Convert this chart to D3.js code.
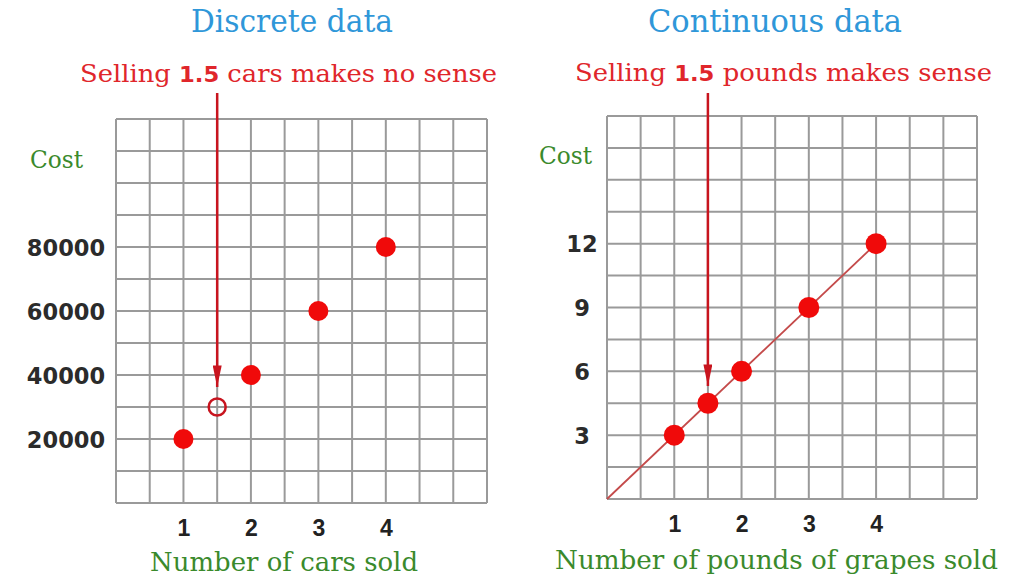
<!DOCTYPE html>
<html><head><meta charset="utf-8">
<script src="https://cdn.jsdelivr.net/npm/d3@7"></script>
<style>html,body{margin:0;padding:0;background:#fff;}</style>
</head><body>
<svg id="c" width="1024" height="576"></svg>
<script>
// ---- data ----
const carsSold = [1, 2, 3, 4];
const carCost = [20000, 40000, 60000, 80000];
const carHalf = {x: 1.5, y: 30000};
const carYTicks = [20000, 40000, 60000, 80000];
const xTicks = [1, 2, 3, 4];

const grapePounds = [1, 1.5, 2, 3, 4];
const grapeCost = [3, 4.5, 6, 9, 12];
const grapeLine = [[0, 0], [4, 12]];
const grapeYTicks = [3, 6, 9, 12];
const arrowX = 1.5;

const svg = d3.select("#c");
const serif = "'DejaVu Serif', 'Liberation Serif', serif";
const sans = "'DejaVu Sans', 'Liberation Sans', sans-serif";
const red = "#f00a0a", dark = "#c8141e", green = "#3a8a2c", blue = "#2f97d9";

svg.append("defs").append("marker")
  .attr("id", "ah").attr("viewBox", "0 0 24 10").attr("refX", 24).attr("refY", 5)
  .attr("markerUnits", "userSpaceOnUse").attr("markerWidth", 22).attr("markerHeight", 9)
  .attr("orient", "auto")
  .append("path").attr("d", "M0,0 L24,5 L0,10 Z").attr("fill", dark);

function panel(o) {
  const g = svg.append("g");
  const x = d3.scaleLinear().domain([0, 5.5]).range(o.xr);
  const y = d3.scaleLinear().domain([0, o.ymax]).range(o.yr);
  // grid
  const gx = d3.range(0, 5.51, 0.5), gy = d3.range(0, o.ymax + 1e-9, o.ymax / 12);
  g.selectAll(".vx").data(gx).join("line")
    .attr("x1", d => x(d)).attr("x2", d => x(d)).attr("y1", y(0)).attr("y2", y(o.ymax))
    .attr("stroke", "#9a9a9a").attr("stroke-width", 2);
  g.selectAll(".hy").data(gy).join("line")
    .attr("y1", d => y(d)).attr("y2", d => y(d)).attr("x1", x(0)).attr("x2", x(5.5))
    .attr("stroke", "#9a9a9a").attr("stroke-width", 2);
  // axes labels via d3 axes
  const ya = g.append("g").attr("transform", `translate(${o.ylabX},0)`)
    .call(d3.axisLeft(y).tickValues(o.yTicks).tickSize(0).tickPadding(0).tickFormat(d3.format("d")));
  ya.select(".domain").remove();
  ya.selectAll("text").attr("text-anchor", "middle").attr("font-family", sans)
    .attr("font-weight", "bold").attr("font-size", o.ySize).attr("fill", "#2b2b2b").attr("dy", "0.36em");
  const xa = g.append("g").attr("transform", `translate(0,${y(0) + 16})`)
    .call(d3.axisBottom(x).tickValues(xTicks).tickSize(0).tickPadding(0).tickFormat(d3.format("d")));
  xa.select(".domain").remove();
  xa.selectAll("text").attr("font-family", "'Liberation Sans', Arial, sans-serif")
    .attr("font-weight", "bold").attr("font-size", 23).attr("fill", "#222").attr("dy", "0.72em");
  return {g, x, y};
}

// ---- left panel ----
const L = panel({xr: [116, 487], yr: [503, 119], ymax: 120000, yTicks: carYTicks, ylabX: 66, ySize: 22.5});
L.g.append("line").attr("x1", L.x(carHalf.x)).attr("x2", L.x(carHalf.x))
  .attr("y1", 93).attr("y2", 387).attr("stroke", dark).attr("stroke-width", 2.5)
  .attr("marker-end", "url(#ah)");
L.g.selectAll(".pt").data(carsSold).join("circle")
  .attr("cx", d => L.x(d)).attr("cy", (d, i) => L.y(carCost[i])).attr("r", 10).attr("fill", red);
L.g.append("circle").attr("cx", L.x(carHalf.x)).attr("cy", L.y(carHalf.y)).attr("r", 8.5)
  .attr("fill", "none").attr("stroke", dark).attr("stroke-width", 2.5);

// ---- right panel ----
const R = panel({xr: [607, 977], yr: [499, 116], ymax: 18, yTicks: grapeYTicks, ylabX: 582, ySize: 22.5});
R.g.append("path").datum(grapeLine)
  .attr("d", d3.line().x(d => R.x(d[0])).y(d => R.y(d[1])))
  .attr("stroke", "#c44a4a").attr("stroke-width", 1.8).attr("fill", "none");
R.g.append("line").attr("x1", R.x(arrowX)).attr("x2", R.x(arrowX))
  .attr("y1", 93).attr("y2", 386).attr("stroke", dark).attr("stroke-width", 2.5)
  .attr("marker-end", "url(#ah)");
R.g.selectAll(".pt").data(grapePounds).join("circle")
  .attr("cx", d => R.x(d)).attr("cy", (d, i) => R.y(grapeCost[i])).attr("r", 10.5).attr("fill", red);

// ---- texts ----
function txt(s, x, yb, size, color, len) {
  const t = svg.append("text").attr("x", x).attr("y", yb).attr("font-family", serif)
    .attr("font-size", size).attr("fill", color);
  if (len) t.attr("textLength", len).attr("lengthAdjust", "spacingAndGlyphs");
  return t;
}
txt("", 191, 32, 31, blue, 202).text("Discrete data");
txt("", 648, 32, 31, blue, 254).text("Continuous data");

function sub(x, yb, len, after) {
  const t = txt("", x, yb, 25, "#e0262b", len);
  t.append("tspan").text("Selling ");
  t.append("tspan").attr("font-family", sans).attr("font-weight", "bold").attr("font-size", 22).text("1.5");
  t.append("tspan").text(after);
}
sub(80, 82, 417, " cars makes no sense");
sub(575, 81, 417, " pounds makes sense");

txt("", 30, 168, 24, green, 53).text("Cost");
txt("", 539, 164, 24, green, 53).text("Cost");
txt("", 150, 571, 26, green, 268).text("Number of cars sold");
txt("", 555, 569, 26, green, 443).text("Number of pounds of grapes sold");
</script>
</body></html>
